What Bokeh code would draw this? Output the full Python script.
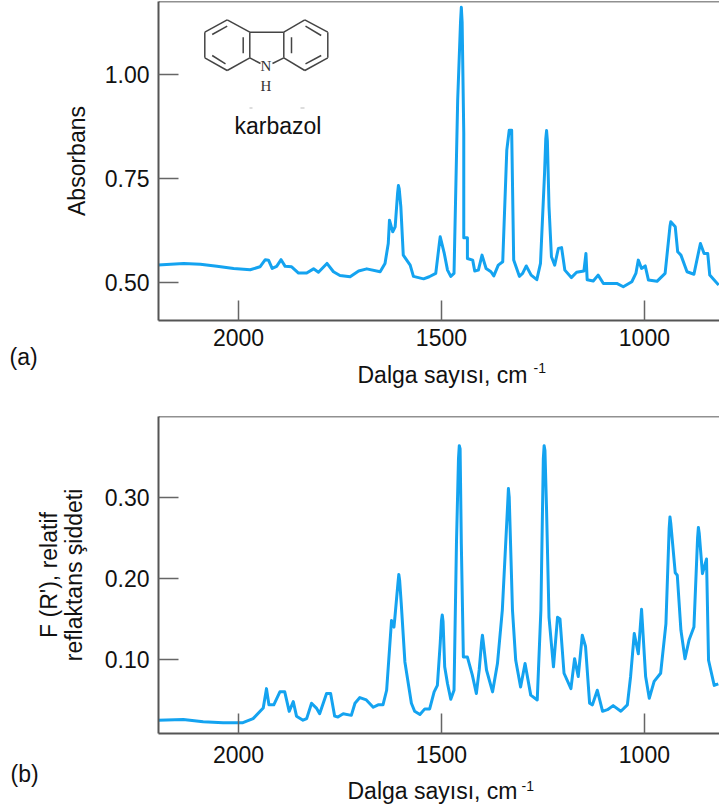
import math
from bokeh.plotting import figure
from bokeh.layouts import column
from bokeh.models import Range1d, Label, Span, FixedTicker, NumeralTickFormatter
from bokeh.embed import file_html
from bokeh.resources import INLINE

# Panel (a): carbazole absorbance
wn_a = [2199,2135,2094,2053,2012,1971,1947,1934,1926,1917,1906,1895,1885,1869,1852,1832,1815,1803,1782,1766,1750,1725,1704,1684,1651,1639,1631,1628,1620,1614,1608,1606,1604,1600,1594,1577,1569,1544,1530,1514,1505,1503,1501,1493,1485,1477,1469,1460,1453,1451,1449,1445,1445,1436,1436,1423,1418,1409,1400,1390,1378,1371,1360,1349,1339,1333,1327,1322,1308,1300,1291,1279,1265,1256,1246,1243,1241,1239,1235,1229,1221,1212,1204,1196,1180,1167,1149,1144,1141,1126,1114,1101,1068,1052,1031,1021,1015,1007,998,990,969,949,937,935,924,918,910,895,878,864,862,853,844,839,817]
abs_a = [.542,.546,.544,.539,.534,.531,.538,.555,.554,.534,.539,.555,.539,.538,.523,.523,.533,.525,.546,.526,.517,.514,.528,.533,.526,.546,.594,.650,.622,.634,.715,.733,.725,.682,.566,.542,.515,.509,.514,.522,.595,.610,.602,.570,.530,.515,.522,.938,1.125,1.161,1.125,.858,.608,.608,.558,.554,.528,.530,.566,.534,.526,.516,.542,.550,.818,.866,.866,.554,.515,.522,.540,.518,.507,.546,.762,.845,.865,.840,.682,.562,.542,.582,.584,.530,.512,.525,.528,.570,.507,.504,.518,.498,.498,.490,.502,.522,.554,.534,.540,.506,.503,.522,.635,.646,.634,.574,.566,.526,.520,.585,.594,.570,.570,.518,.494]

# Panel (b): relative reflectance intensity
wn_b = [2198,2136,2087,2038,1989,1964,1939,1931,1925,1913,1898,1886,1875,1865,1857,1841,1832,1820,1808,1800,1783,1773,1763,1755,1742,1722,1713,1701,1685,1668,1656,1644,1635,1623,1617,1615,1607,1605,1603,1599,1590,1574,1566,1553,1541,1529,1518,1510,1503,1500,1498,1496,1492,1485,1477,1469,1463,1458,1456,1454,1451,1446,1436,1424,1414,1407,1401,1399,1397,1389,1374,1362,1350,1337,1335,1333,1325,1317,1305,1294,1280,1264,1255,1249,1247,1245,1241,1235,1224,1214,1208,1198,1181,1172,1163,1153,1145,1135,1128,1116,1103,1091,1077,1058,1042,1034,1025,1015,1007,997,988,976,960,947,939,937,935,924,919,910,900,890,878,869,867,865,857,847,842,828,818]
fr_b = [.025,.026,.023,.022,.022,.027,.040,.064,.044,.044,.060,.060,.036,.048,.030,.025,.027,.046,.040,.033,.058,.058,.030,.029,.033,.031,.046,.053,.050,.041,.044,.044,.062,.148,.140,.150,.195,.205,.198,.169,.097,.046,.036,.032,.039,.039,.060,.068,.120,.148,.155,.147,.091,.070,.051,.062,.243,.348,.364,.360,.243,.103,.103,.081,.058,.087,.122,.130,.122,.087,.060,.095,.161,.290,.311,.300,.161,.099,.066,.095,.056,.050,.161,.348,.364,.358,.284,.152,.091,.152,.150,.083,.064,.101,.079,.130,.116,.046,.044,.062,.036,.038,.043,.036,.044,.079,.132,.107,.162,.079,.052,.073,.083,.144,.262,.276,.268,.207,.204,.136,.101,.124,.140,.250,.263,.256,.206,.224,.099,.068,.070]

x_ticks = [2000, 1500, 1000]
y_ticks_a = [0.50, 0.75, 1.00]
y_ticks_b = [0.10, 0.20, 0.30]
x_label = "Dalga sayısı, cm"
x_label_sup = "-1"
y_label_a = "Absorbans"
y_label_b = "F (R'), relatif\nreflaktans şiddeti"

BLUE = "#14a3f0"
FONT = "Liberation Sans"
XR = (2197, 815)
LEFT = 158
SIZE = 23


def panel(h, top, bottom, yr, yticks, standoff, xs, ys, ylabel, ystand):
    p = figure(width=719, height=h, output_backend="svg", toolbar_location=None,
               x_range=Range1d(*XR), y_range=Range1d(*yr),
               min_border_left=LEFT, min_border_right=0, min_border_top=top, min_border_bottom=bottom)
    p.outline_line_color = None
    p.grid.visible = False
    p.background_fill_color = "white"
    p.xaxis.ticker = FixedTicker(ticks=x_ticks)
    p.yaxis.ticker = FixedTicker(ticks=yticks)
    p.yaxis.formatter = NumeralTickFormatter(format="0.00")
    p.xaxis.major_label_standoff = standoff
    p.yaxis.major_label_standoff = 9
    p.yaxis.axis_label = ylabel
    p.yaxis.axis_label_standoff = ystand
    p.yaxis.axis_label_text_font = FONT
    p.yaxis.axis_label_text_font_style = "normal"
    p.yaxis.axis_label_text_font_size = f"{SIZE}px"
    p.yaxis.axis_label_text_color = "#111111"
    p.yaxis.axis_label_text_line_height = 0.95
    for ax in (p.xaxis, p.yaxis):
        ax.major_tick_in = 20
        ax.major_tick_out = 0
        ax.minor_tick_in = 0
        ax.minor_tick_out = 0
        ax.major_tick_line_color = "#666666"
        ax.major_tick_line_width = 1.5
        ax.axis_line_color = "#555555"
        ax.axis_line_width = 2
        ax.major_label_text_font = FONT
        ax.major_label_text_font_size = f"{SIZE}px"
        ax.major_label_text_color = "#111111"
    p.line(xs, ys, line_color=BLUE, line_width=3, line_join="round")
    p.add_layout(Span(location=yr[1], dimension="width", line_color="#222222", line_width=1.5))
    return p


def lab(p, x, y, text, size=SIZE, font=FONT, color="#111111", side=None, units="screen"):
    l = Label(x=x, y=y, x_units=units, y_units=units, text=text,
              text_font=font, text_font_size=f"{size}px", text_align="left",
              text_baseline="middle", text_color=color)
    if side:
        p.add_layout(l, side)
    else:
        p.add_layout(l)


pa = panel(395, 1, 75, (0.409, 1.175), y_ticks_a, 8, wn_a, abs_a, y_label_a, 12)
pb = panel(416, 21, 78, (0.0086, 0.4), y_ticks_b, 12, wn_b, fr_b, y_label_b, 15)

lab(pa, -23, -36, "(a)", side="left")
lab(pa, 199, 0, x_label, side="below")
lab(pa, 513, -47, x_label_sup, size=14, side="left")
lab(pb, 5, -40, "(b)", side="left")
lab(pb, 189, 1, x_label, side="below")
lab(pb, 363, -369, x_label_sup, size=14, side="above")

# inside the frame
lab(pa, 234, 125, "karbazol", units="canvas")

# carbazole structure, placed in pixels of the top panel
def dx(px):
    return XR[0] + (px - LEFT) * (XR[1] - XR[0]) / (719 - LEFT)

def dy(py):
    return 1.175 + (py - 1) * (0.409 - 1.175) / (320 - 1)

bonds = [
    ((226.7,19.3),(204.3,31.7)),((204.3,31.7),(204.3,57.3)),((204.3,57.3),(226.7,70)),((226.7,70),(249.3,57.3)),
    ((249.3,57.3),(249.3,31.7)),((249.3,31.7),(226.7,19.3)),
    ((304.3,19.3),(327.3,31.7)),((327.3,31.7),(327.3,57.3)),((327.3,57.3),(304.3,70)),((304.3,70),(283.3,57.3)),
    ((283.3,57.3),(283.3,31.7)),((283.3,31.7),(304.3,19.3)),
    ((249.3,31.7),(283.3,31.7)),((249.3,57.3),(260,63)),((283.3,57.3),(272,63)),
    ((211.7,34),(226.7,25.7)),((242.7,36.7),(242.7,52.7)),((211.7,55),(225,63.3)),
    ((291,36.7),(291,52.7)),((305,25.7),(320.7,35)),((305,63.3),(320.7,55)),
]
pa.multi_line([[dx(a[0]), dx(b[0])] for a, b in bonds], [[dy(a[1]), dy(b[1])] for a, b in bonds],
              line_color="#444444", line_width=1.5)
pa.multi_line([[dx(249), dx(252)], [dx(300), dx(304)]], [[dy(107.5)] * 2, [dy(107.5)] * 2],
              line_color="#bbbbbb", line_width=1)
lab(pa, 260, 65, "N", size=15, font="Liberation Serif", color="#333333", units="canvas")
lab(pa, 260, 85, "H", size=15, font="Liberation Serif", color="#333333", units="canvas")

root = column(pa, pb, spacing=0)
open("out.html", "w").write(file_html(root, INLINE))
